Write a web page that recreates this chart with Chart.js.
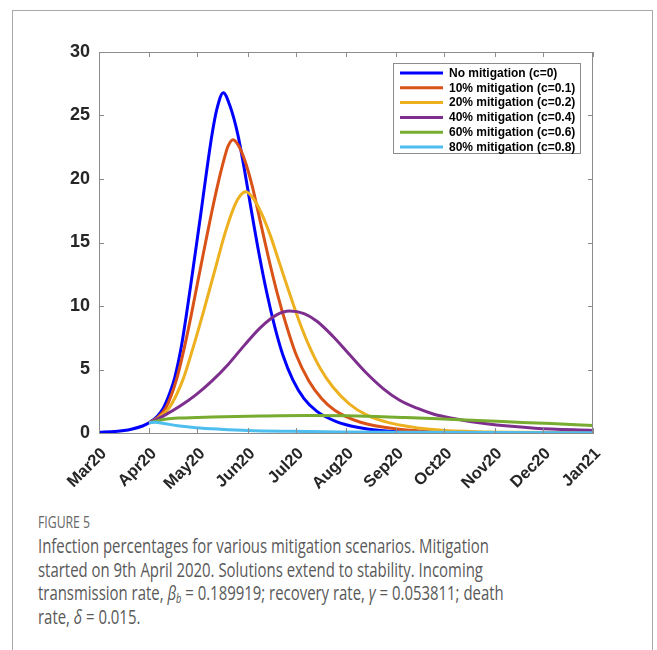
<!DOCTYPE html>
<html>
<head>
<meta charset="utf-8">
<script src="https://cdn.jsdelivr.net/npm/chart.js@4/dist/chart.umd.min.js"></script>
<style>
  html, body { margin:0; padding:0; background:#fff; }
  body { width:657px; height:650px; position:relative; overflow:hidden; }
  #frame { position:absolute; left:12px; top:10px; width:641px; height:700px; border:1px solid #a8a8a8; box-sizing:border-box; }
  #chart { position:absolute; left:0; top:0; }
  #cap { position:absolute; left:38px; top:511px; transform-origin:0 0; font-family:"Open Sans", sans-serif; color:#595959; white-space:nowrap; }
  #cap .fig { font-size:16px; line-height:23px; height:23px; color:#666; }
  #cap .ln { font-size:19.5px; line-height:23.7px; height:23.7px; }
  #cap sub { font-size:12px; line-height:0; vertical-align:-3px; font-style:italic; }
</style>
</head>
<body>
<div id="frame"></div>
<canvas id="chart" width="657" height="490"></canvas>
<div id="cap">
  <div class="fig">FIGURE 5</div>
  <div class="ln" id="l1">Infection percentages for various mitigation scenarios. Mitigation</div>
  <div class="ln">started on 9th April 2020. Solutions extend to stability. Incoming</div>
  <div class="ln">transmission rate, <i>β</i><sub>b</sub> = 0.189919; recovery rate, <i>γ</i> = 0.053811; death</div>
  <div class="ln">rate, <i>δ</i> = 0.015.</div>
</div>
<script>
// Month tick positions (days since 1 Mar 2020) and labels
const monthDays = [0, 31, 61, 92, 122, 153, 184, 214, 245, 275, 306];
const monthLabels = ['Mar20','Apr20','May20','Jun20','Jul20','Aug20','Sep20','Oct20','Nov20','Dec20','Jan21'];
const yTicks = [0, 5, 10, 15, 20, 25, 30];

const seriesNames = ['No mitigation (c=0)','10% mitigation (c=0.1)','20% mitigation (c=0.2)','40% mitigation (c=0.4)','60% mitigation (c=0.6)','80% mitigation (c=0.8)'];
const seriesColors = ['#0000FF','#D95319','#EDB120','#7E2F8E','#77AC30','#4DBEEE'];

// Series values (day since 1 Mar 2020, infection %)
const c0Days = [0,10,20,27,31,36,40,44,47,51,54,57,60,63,66,70,73,77,81,86,90,94,99,104,109,114,120,127,135,147,160,176,200,230,306];
const c0Vals = [0.05,0.12,0.3,0.55,0.8,1.3,2.0,3.2,4.4,6.8,9.2,11.8,14.5,17.2,20.0,23.5,25.5,26.8,25.8,23.5,20.8,17.8,14.2,11.0,8.3,6.1,4.2,2.7,1.7,0.9,0.45,0.18,0.06,0.02,0.0];

const c1Days = [31,36,41.5,48,53,57,61,66,70,74,78,80,83,87,91,95,100,105,110,116,122,130,138,146,162,186,210,250,306];
const c1Vals = [0.8,1.2,2.0,4.2,6.8,9.2,11.8,15.0,17.5,19.8,21.8,22.6,23.1,22.5,21.2,19.4,16.6,13.8,11.2,8.5,6.2,4.1,2.7,1.8,0.85,0.3,0.1,0.03,0.005];

const c2Days = [31,37,43.6,52,58,64.6,70,73,78,84,87.5,91,96,101,106,112,118,124,130,137,145,155,166,180,205,230,260,306];
const c2Vals = [0.8,1.2,2.0,4.2,6.6,9.5,12.0,13.4,15.7,17.9,18.7,19.0,18.4,17.2,15.6,13.3,11.0,8.8,6.9,5.1,3.6,2.3,1.4,0.8,0.3,0.12,0.05,0.01];

const c4Days = [31,40,50,60,70,80,90,100,110,118,127,135,145,155,165,176,186,197,207,217,240,270,306];
const c4Vals = [0.8,1.35,2.1,3.0,4.1,5.4,6.9,8.3,9.3,9.6,9.4,8.8,7.6,6.2,4.8,3.5,2.6,1.95,1.5,1.2,0.72,0.38,0.2];

const c6Days = [31,36,42,50,70,100,130,160,190,220,250,280,306];
const c6Vals = [0.8,0.95,1.1,1.18,1.26,1.33,1.37,1.34,1.22,1.06,0.9,0.74,0.6];

const c8Days = [31,35,40,50,60,75,92,120,150,200,250,306];
const c8Vals = [0.8,0.85,0.75,0.55,0.42,0.3,0.2,0.13,0.08,0.05,0.03,0.02];

const allDays = [c0Days, c1Days, c2Days, c4Days, c6Days, c8Days];
const allVals = [c0Vals, c1Vals, c2Vals, c4Vals, c6Vals, c8Vals];

const FONT = '"Liberation Sans", Arial, Helvetica, sans-serif';
const AXIS = '#8c8c8c';

const datasets = seriesNames.map((name, i) => ({
  label: name,
  data: allDays[i].map((d, k) => ({ x: d, y: allVals[i][k] })),
  borderColor: seriesColors[i],
  backgroundColor: seriesColors[i],
  borderWidth: 3,
  pointRadius: 0,
  fill: false,
  cubicInterpolationMode: 'monotone',
  order: seriesNames.length - i
}));

const boxPlugin = {
  id: 'boxPlugin',
  afterDatasetsDraw(chart) {
    const { ctx, chartArea: a, scales } = chart;
    ctx.save();
    ctx.strokeStyle = AXIS;
    ctx.lineWidth = 1;
    ctx.beginPath();
    ctx.moveTo(a.left, a.top + 0.5); ctx.lineTo(a.right, a.top + 0.5);
    ctx.moveTo(a.right - 0.5, a.top); ctx.lineTo(a.right - 0.5, a.bottom);
    monthDays.forEach(d => {
      const x = Math.round(scales.x.getPixelForValue(d)) + 0.5;
      ctx.moveTo(x, a.bottom); ctx.lineTo(x, a.bottom - 5);
      ctx.moveTo(x, a.top); ctx.lineTo(x, a.top + 5);
    });
    yTicks.forEach(v => {
      const y = Math.round(scales.y.getPixelForValue(v)) + 0.5;
      ctx.moveTo(a.left, y); ctx.lineTo(a.left + 5, y);
      ctx.moveTo(a.right, y); ctx.lineTo(a.right - 5, y);
    });
    ctx.stroke();
    ctx.restore();
  },
  afterDraw(chart) {
    const { ctx } = chart;
    const bx = 393, by = 63, bw = 187, bh = 90;
    ctx.save();
    ctx.fillStyle = '#fff';
    ctx.fillRect(bx, by, bw, bh);
    ctx.strokeStyle = '#8c8c8c';
    ctx.lineWidth = 1;
    ctx.strokeRect(bx + 0.5, by + 0.5, bw, bh);
    ctx.font = 'bold 12px ' + FONT;
    ctx.textBaseline = 'middle';
    ctx.textAlign = 'left';
    chart.data.datasets.forEach((ds, i) => {
      const y = by + 10 + i * 14.8;
      ctx.strokeStyle = ds.borderColor;
      ctx.lineWidth = 3;
      ctx.beginPath();
      ctx.moveTo(400, y); ctx.lineTo(443, y);
      ctx.stroke();
      ctx.fillStyle = '#000';
      ctx.fillText(ds.label, 449, y + 0.5);
    });
    ctx.restore();
  }
};

new Chart(document.getElementById('chart'), {
  type: 'line',
  data: { datasets },
  options: {
    responsive: false,
    animation: false,
    devicePixelRatio: 1,
    layout: { padding: { top: 52, right: 64, left: 0, bottom: 0 } },
    plugins: { legend: { display: false }, tooltip: { enabled: false } },
    scales: {
      x: {
        type: 'linear', min: 0, max: 306,
        grid: { display: false },
        border: { display: true, color: AXIS, width: 1 },
        afterBuildTicks: s => { s.ticks = monthDays.map(v => ({ value: v })); },
        afterFit: s => { s.height = 57; },
        ticks: {
          autoSkip: false, minRotation: 45, maxRotation: 45, padding: 3, labelOffset: 5,
          color: '#262626',
          font: { family: FONT, size: 16.5, weight: 'bold' },
          callback: v => monthLabels[monthDays.indexOf(v)]
        }
      },
      y: {
        min: 0, max: 30,
        grid: { display: false },
        border: { display: true, color: AXIS, width: 1 },
        afterBuildTicks: s => { s.ticks = yTicks.map(v => ({ value: v })); },
        afterFit: s => { s.width = 99; },
        ticks: {
          padding: 1, color: '#262626',
          font: { family: FONT, size: 18, weight: 'bold' }
        }
      }
    }
  },
  plugins: [boxPlugin]
});

// Fit the caption block to the reference's line width
(function () {
  const cap = document.getElementById('cap');
  const w = document.getElementById('l1').scrollWidth;
  const s = 466 / w;
  cap.style.transform = 'scaleX(' + s + ')';
})();
</script>
</body>
</html>
